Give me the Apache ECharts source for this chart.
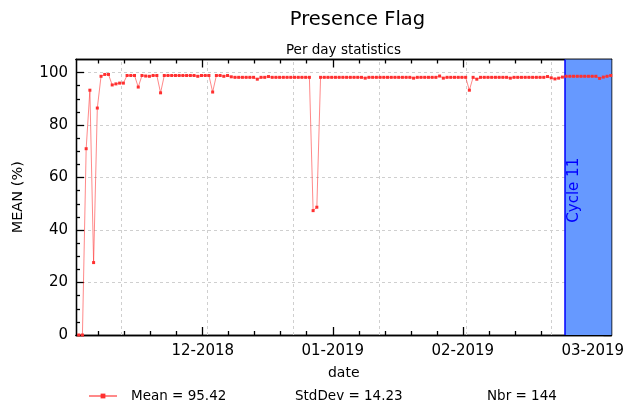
<!DOCTYPE html>
<html><head><meta charset="utf-8">
<script src="https://cdn.jsdelivr.net/npm/echarts@6/dist/echarts.min.js"></script>
<style>html,body{margin:0;padding:0;background:#fff}#c{width:624px;height:405px}</style>
</head><body><div id="c"></div>
<script>
// ---- data (one value per day, x = day index) ----
const meanValues = [
  0, 0, 71, 93.3, 27.6, 86.5, 98.6, 99.3, 99.3, 95.3,
  95.7, 96, 96, 98.9, 98.9, 98.9, 94.5, 98.9, 98.7, 98.6,
  98.9, 98.9, 92.3, 98.9, 98.9, 98.9, 98.9, 98.9, 98.9, 98.9,
  98.9, 98.9, 98.6, 98.9, 98.9, 98.9, 92.6, 98.9, 98.9, 98.6,
  98.9, 98.4, 98.2, 98.2, 98.2, 98.2, 98.2, 98.2, 97.5, 98.2,
  98.2, 98.5, 98.2, 98.2, 98.2, 98.2, 98.2, 98.2, 98.2, 98.2,
  98.2, 98.2, 98.2, 47.4, 48.7, 98.2, 98.2, 98.2, 98.2, 98.2,
  98.2, 98.2, 98.2, 98.2, 98.2, 98.2, 98.2, 97.9, 98.2, 98.2,
  98.2, 98.2, 98.2, 98.2, 98.2, 98.2, 98.2, 98.2, 98.2, 98.2,
  97.9, 98.2, 98.2, 98.2, 98.2, 98.2, 98.2, 98.7, 97.9, 98.2,
  98.2, 98.2, 98.2, 98.2, 98.2, 93.3, 98.2, 97.5, 98.2, 98.2,
  98.2, 98.2, 98.2, 98.2, 98.2, 98.2, 97.9, 98.2, 98.2, 98.2,
  98.2, 98.2, 98.2, 98.2, 98.2, 98.2, 98.5, 98.0, 97.6, 97.9,
  98.3, 98.6, 98.6, 98.6, 98.6, 98.6, 98.6, 98.6, 98.6, 98.6,
  97.8, 98.3, 98.6, 98.9
];
const majorTickPositions = [33.33, 68.28, 103.23, 138.17];
const majorTickLabels = ['12-2018', '01-2019', '02-2019', '03-2019'];
const minorTickPositions = [5.37, 12.36, 19.35, 26.34, 40.32, 47.31, 54.30, 61.29,
  75.27, 82.26, 89.25, 96.24, 110.22, 117.21, 124.20, 131.19];
const gridLinePositions = [11.37, 34.68, 57.69, 80.81, 104.03, 127.10];
const yMajorTicks = [0, 20, 40, 60, 80, 100];
const yMinorTicks = [5, 10, 15, 25, 30, 35, 45, 50, 55, 65, 70, 75, 85, 90, 95];
const xMin = -0.73, xMax = 143.2;
const yMin = 0, yMax = 105;
const cycleStart = 130.7;
const cycleLabel = 'Cycle 11';
const titleText = 'Presence Flag';
const subtitleText = 'Per day statistics';
const seriesName = 'Mean = 95.42';
const stdText = 'StdDev = 14.23';
const nbrText = 'Nbr = 144';

const FONT = 'DejaVu Sans';
const chart = echarts.init(document.getElementById('c'), null, {renderer: 'canvas'});
const axisLineStyle = {color: '#000', width: 1.3};

function xAx(pos, ticks, len, extra) {
  return Object.assign({
    type: 'value', min: xMin, max: xMax, position: pos,
    splitLine: {show: false},
    axisLine: {show: true, onZero: false, lineStyle: axisLineStyle},
    axisTick: {show: true, inside: true, length: len, customValues: ticks, lineStyle: axisLineStyle},
    axisLabel: {show: false}
  }, extra || {});
}
function yAx(pos, ticks, len, extra) {
  return Object.assign({
    type: 'value', min: yMin, max: yMax, position: pos,
    splitLine: {show: false},
    axisLine: {show: true, onZero: false, lineStyle: axisLineStyle},
    axisTick: {show: true, inside: true, length: len, customValues: ticks, lineStyle: axisLineStyle},
    axisLabel: {show: false}
  }, extra || {});
}

const staticGraphics = [
  {type: 'text', x: 357.5, y: 20, style: {text: titleText, font: '19.5px "DejaVu Sans"', fill: '#000', align: 'center', verticalAlign: 'middle'}},
  {type: 'text', x: 343.5, y: 50, style: {text: subtitleText, font: '13.5px "DejaVu Sans"', fill: '#000', align: 'center', verticalAlign: 'middle'}},
  {type: 'text', x: 295, y: 396, style: {text: stdText, font: '13.5px "DejaVu Sans"', fill: '#000', verticalAlign: 'middle'}},
  {type: 'text', x: 487, y: 396, style: {text: nbrText, font: '13.5px "DejaVu Sans"', fill: '#000', verticalAlign: 'middle'}}
];

const option = {
  animation: false,
  textStyle: {fontFamily: FONT},
  grid: {left: 76, right: 12.5, top: 59.5, bottom: 70, containLabel: false, outerBoundsMode: 'none'},
  legend: {
    data: [seriesName], left: 88, top: 386, itemWidth: 28, itemHeight: 6, itemGap: 10,
    padding: [3, 0, 3, 0],
    textStyle: {fontFamily: FONT, fontSize: 13.5, color: '#000', padding: [0, 0, 0, 9]}
  },
  graphic: staticGraphics,
  xAxis: [
    xAx('bottom', majorTickPositions, 8, {
      name: 'date', nameLocation: 'middle', nameGap: 31,
      nameTextStyle: {fontFamily: FONT, fontSize: 14, color: '#000'},
      axisLabel: {show: true, customValues: majorTickPositions, margin: 9,
        fontFamily: FONT, fontSize: 15, color: '#000',
        formatter: v => { const k = majorTickPositions.findIndex(p => Math.abs(p - v) < 1e-6); return k >= 0 ? majorTickLabels[k] : ''; }}
    }),
    xAx('bottom', minorTickPositions, 4),
    xAx('top', majorTickPositions, 8),
    xAx('top', minorTickPositions, 4)
  ],
  yAxis: [
    yAx('left', yMajorTicks, 8, {
      interval: 20,
      name: 'MEAN (%)', nameLocation: 'middle', nameGap: 50, nameRotate: 90,
      nameTextStyle: {fontFamily: FONT, fontSize: 14.5, color: '#000'},
      axisLabel: {show: true, margin: 8, fontFamily: FONT, fontSize: 15, color: '#000',
        customValues: yMajorTicks},
      splitLine: {show: true, lineStyle: {type: [3, 3], color: '#cfcfcf', width: 1}}
    }),
    yAx('left', yMinorTicks, 4),
    yAx('right', yMajorTicks, 8),
    yAx('right', yMinorTicks, 4)
  ],
  series: [
    {
      type: 'line', name: 'bg', data: [], silent: true, z: 1,
      markArea: {silent: true, itemStyle: {color: '#6699ff', opacity: 1},
        data: [[{xAxis: cycleStart}, {xAxis: xMax}]]},
      markLine: {silent: true, symbol: 'none', animation: false,
        label: {show: false},
        lineStyle: {type: [3, 3], color: '#cfcfcf', width: 1},
        data: gridLinePositions.map(v => ({xAxis: v}))}
    },
    {
      type: 'line', name: 'cyc', data: [], silent: true, z: 2,
      markLine: {silent: true, symbol: 'none', animation: false,
        lineStyle: {type: 'solid', color: '#0000ff', width: 1.5},
        label: {show: false},
        data: [{xAxis: cycleStart}]}
    },
    {
      type: 'line', name: seriesName, z: 5,
      data: meanValues.map((v, i) => [i, v]),
      symbol: 'rect', symbolSize: 3, showSymbol: true,
      lineStyle: {color: 'rgba(255,40,40,0.55)', width: 1},
      itemStyle: {color: '#ff3030'}
    }
  ]
};
chart.setOption(option);

// cycle label, positioned from the axis scale
const px = chart.convertToPixel({xAxisIndex: 0, yAxisIndex: 0}, [cycleStart, 0]);
const topPx = chart.convertToPixel({xAxisIndex: 0, yAxisIndex: 0}, [cycleStart, yMax]);
chart.setOption({graphic: staticGraphics.concat([
  {type: 'text', x: px[0] + 9, y: (px[1] + topPx[1]) / 2 - 7, rotation: Math.PI / 2, z: 10,
   style: {text: cycleLabel, font: '15px "DejaVu Sans"', fill: '#0000ff', align: 'center', verticalAlign: 'middle'}}
])});
</script>
</body></html>
